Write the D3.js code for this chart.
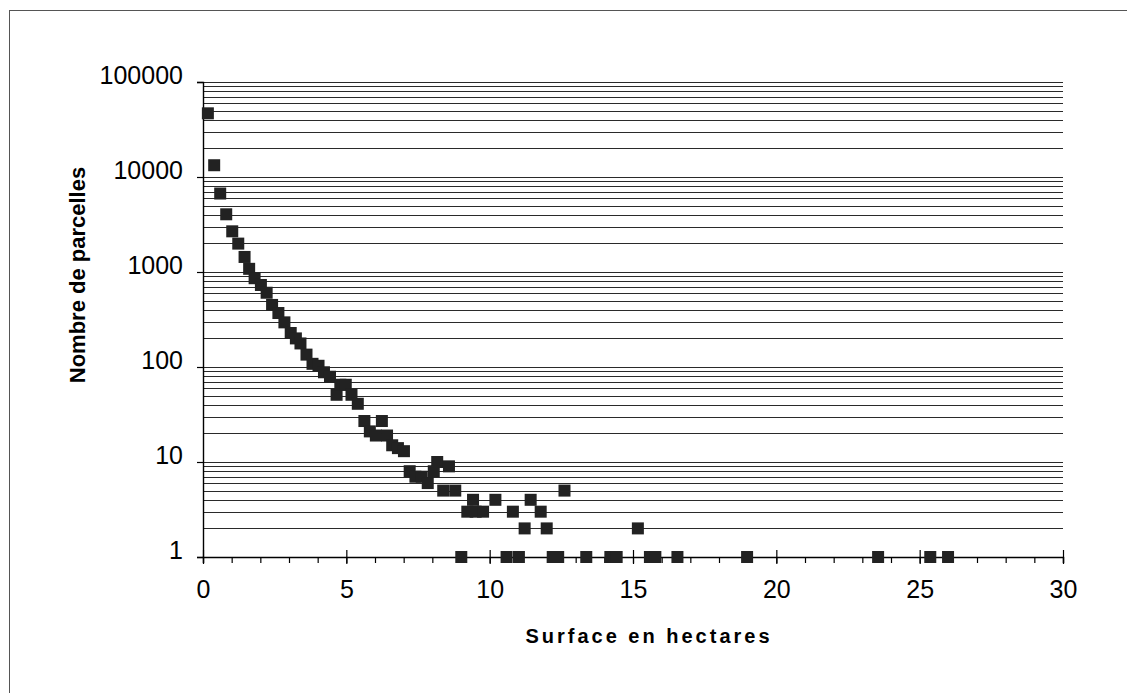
<!DOCTYPE html>
<html>
<head>
<meta charset="utf-8">
<script src="https://cdn.jsdelivr.net/npm/d3@7"></script>
<style>
  body { margin: 0; background: #fff; }
  svg text { font-family: "Liberation Sans", Arial, sans-serif; fill: #000; }
</style>
</head>
<body>
<div id="chart"></div>
<script>
// surface (ha) and number of parcels
const surface = [0.17, 0.39, 0.60, 0.81, 1.02, 1.23, 1.45, 1.61, 1.80, 2.02,
                 2.22, 2.41, 2.63, 2.84, 3.06, 3.24, 3.40, 3.61, 3.82, 4.03,
                 4.22, 4.43, 4.66, 4.79, 4.98, 5.18, 5.40, 5.63, 5.82, 6.03,
                 6.24, 6.42, 6.60, 6.80, 7.01, 7.21, 7.41, 7.63, 7.84, 8.05,
                 8.17, 8.38, 8.58, 8.80, 9.01, 9.22, 9.42, 9.51, 9.77, 10.20,
                 10.59, 10.81, 11.02, 11.22, 11.43, 11.78, 11.99, 12.20, 12.39, 12.61,
                 13.37, 14.21, 14.43, 15.17, 15.59, 15.78, 16.55, 18.98, 23.55, 25.37,
                 25.99]
const parcelles = [46800, 13300, 6700, 4050, 2680, 1990, 1440, 1080, 860, 730,
                   605, 450, 370, 295, 228, 200, 177, 135, 108, 103,
                   88, 79, 51, 65, 65, 51, 41, 27, 21, 19,
                   27, 19, 15, 14, 13, 8, 7, 7, 6, 8,
                   10, 5, 9, 5, 1, 3, 4, 3, 3, 4,
                   1, 3, 1, 2, 4, 3, 2, 1, 1, 5,
                   1, 1, 1, 2, 1, 1, 1, 1, 1, 1,
                   1]

const xTicks = [0, 5, 10, 15, 20, 25, 30]
const yTicks = [1, 10, 100, 1000, 10000, 100000]

const width = 1127
const height = 693

var svg = d3.select("#chart")
            .append("svg")
              .attr("width", width)
              .attr("height", height)

// scanned page frame (left and top edges)
svg.append("line")
     .attr("x1", 9.5).attr("x2", 9.5)
     .attr("y1", 10).attr("y2", height)
     .attr("stroke", "#555").attr("stroke-width", 1)
svg.append("line")
     .attr("x1", 9).attr("x2", width)
     .attr("y1", 10.5).attr("y2", 10.5)
     .attr("stroke", "#555").attr("stroke-width", 1)

var x = d3.scaleLinear().domain([0, 30]).range([203, 1063])
var y = d3.scaleLog().domain([1, 100000]).range([557, 82])

// gridlines at every 1..9 x 10^k
var gridValues = []
yTicks.forEach(d => {
  for (let m = 1; m <= 9; m++) {
    if (d * m <= 100000 && d * m > 1) gridValues.push(d * m)
  }
})

svg.append("g")
     .attr("class", "grid")
     .selectAll("line")
     .data(gridValues).enter()
     .append("line")
       .attr("x1", x(0)).attr("x2", x(30))
       .attr("y1", d => Math.round(y(d)) + 0.5)
       .attr("y2", d => Math.round(y(d)) + 0.5)
       .attr("stroke", "#2a2a2a")
       .attr("stroke-width", 1.1)

// y axis
var yAxis = svg.append("g")
     .attr("transform", "translate(" + x(0) + ",0)")
     .call(d3.axisLeft(y).tickValues(yTicks).tickFormat(d3.format("d")).tickSize(6).tickPadding(14))
yAxis.select(".domain").attr("stroke", "#000").attr("stroke-width", 1.4)
yAxis.selectAll(".tick line").attr("stroke", "#000").attr("stroke-width", 1.2)
yAxis.selectAll(".tick text")
       .style("font-size", "25px")
       .attr("dy", "0.05em")

// x axis: minor ticks every hectare, major every 5
var xMinor = svg.append("g")
     .attr("transform", "translate(0," + y(1) + ")")
     .call(d3.axisBottom(x).tickValues(d3.range(0, 31, 1)).tickFormat("").tickSize(6))
xMinor.select(".domain").attr("stroke", "#000").attr("stroke-width", 1.4)
xMinor.selectAll(".tick line").attr("stroke", "#000").attr("stroke-width", 1.2)

var xAxis = svg.append("g")
     .attr("transform", "translate(0," + y(1) + ")")
     .call(d3.axisBottom(x).tickValues(xTicks).tickSize(7).tickPadding(16))
xAxis.select(".domain").remove()
xAxis.selectAll(".tick line")
       .attr("y1", -7)
       .attr("stroke", "#000").attr("stroke-width", 1.2)
xAxis.selectAll(".tick text")
       .style("font-size", "25px")

// markers
svg.append("g")
     .selectAll("rect")
     .data(surface.map((s, i) => [s, parcelles[i]])).enter()
     .append("rect")
       .attr("x", d => x(d[0]) - 6)
       .attr("y", d => y(d[1]) - 6)
       .attr("width", 12)
       .attr("height", 12)
       .attr("fill", "#222")

// axis titles
svg.append("text")
     .attr("transform", "translate(85,275) rotate(-90)")
     .attr("text-anchor", "middle")
     .style("font-size", "22px")
     .style("font-weight", "bold")
     .text("Nombre de parcelles")

svg.append("text")
     .attr("x", 649)
     .attr("y", 643)
     .attr("text-anchor", "middle")
     .style("font-size", "20px")
     .style("font-weight", "bold")
     .style("letter-spacing", "3px")
     .text("Surface en hectares")
</script>
</body>
</html>
